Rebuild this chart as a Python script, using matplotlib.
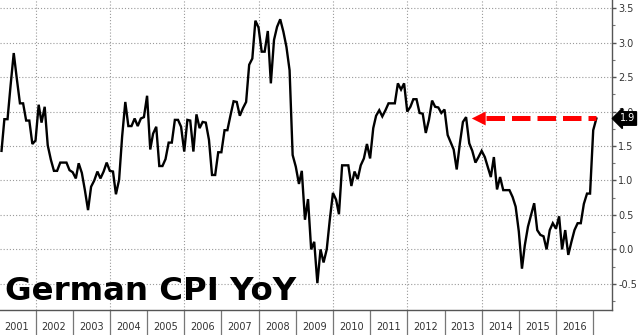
import matplotlib

matplotlib.use("Agg")
import matplotlib.dates as mdates  # noqa: E402
import matplotlib.pyplot as plt  # noqa: E402
import pandas as pd  # noqa: E402
from matplotlib.ticker import FixedLocator, MultipleLocator, NullFormatter  # noqa: E402

# German CPI, % change year on year, monthly (month-end stamps).
CPI_2001 = [1.43, 1.89, 1.89, 2.38, 2.85, 2.48, 2.12, 2.12, 1.87, 1.87, 1.53, 1.58]
CPI_2002 = [2.10, 1.84, 2.07, 1.51, 1.30, 1.14, 1.14, 1.26, 1.26, 1.26, 1.15, 1.12]
CPI_2003 = [1.03, 1.25, 1.11, 0.86, 0.57, 0.91, 1.00, 1.13, 1.03, 1.13, 1.26, 1.14]
CPI_2004 = [1.13, 0.80, 1.01, 1.64, 2.14, 1.79, 1.79, 1.90, 1.79, 1.90, 1.92, 2.23]
CPI_2005 = [1.45, 1.68, 1.78, 1.21, 1.21, 1.31, 1.55, 1.55, 1.88, 1.88, 1.78, 1.42]
CPI_2006 = [1.88, 1.87, 1.42, 1.96, 1.76, 1.85, 1.84, 1.59, 1.08, 1.08, 1.41, 1.41]
CPI_2007 = [1.73, 1.73, 1.95, 2.15, 2.14, 1.94, 2.05, 2.14, 2.68, 2.77, 3.32, 3.22]
CPI_2008 = [2.87, 2.87, 3.17, 2.41, 3.04, 3.23, 3.34, 3.16, 2.94, 2.60, 1.37, 1.20]
CPI_2009 = [0.95, 1.14, 0.43, 0.73, 0.00, 0.11, -0.49, 0.00, -0.19, 0.00, 0.43, 0.82]
CPI_2010 = [0.72, 0.51, 1.22, 1.22, 1.22, 0.92, 1.13, 1.02, 1.22, 1.32, 1.53, 1.32]
CPI_2011 = [1.76, 1.94, 2.02, 1.93, 2.02, 2.12, 2.12, 2.12, 2.41, 2.32, 2.41, 2.00]
CPI_2012 = [2.07, 2.18, 2.18, 1.98, 1.97, 1.69, 1.88, 2.16, 2.07, 2.06, 1.98, 2.03]
CPI_2013 = [1.66, 1.56, 1.45, 1.16, 1.54, 1.85, 1.92, 1.54, 1.43, 1.26, 1.34, 1.43]
CPI_2014 = [1.34, 1.20, 1.05, 1.34, 0.87, 1.05, 0.86, 0.86, 0.86, 0.76, 0.62, 0.26]
CPI_2015 = [-0.28, 0.06, 0.33, 0.50, 0.67, 0.28, 0.21, 0.19, 0.00, 0.28, 0.38, 0.30]
CPI_2016 = [0.48, 0.00, 0.28, -0.08, 0.11, 0.28, 0.38, 0.38, 0.66, 0.81, 0.81, 1.73]
CPI_2017 = [1.9]

YEAR_LABELS = list(range(2001, 2017))
Y_TICKS = [-0.5, 0.0, 0.5, 1.0, 1.5, 2.0, 2.5, 3.0, 3.5]
TITLE = "German CPI YoY"

# the red arrow points back to the last time CPI was this high
ARROW_TIP = "2013-09-25"


def main() -> int:
    cpi = (CPI_2001 + CPI_2002 + CPI_2003 + CPI_2004 + CPI_2005 + CPI_2006
           + CPI_2007 + CPI_2008 + CPI_2009 + CPI_2010 + CPI_2011 + CPI_2012
           + CPI_2013 + CPI_2014 + CPI_2015 + CPI_2016 + CPI_2017)
    dates = pd.date_range("2001-01-31", periods=len(cpi), freq="ME")
    last = cpi[-1]

    plt.rcParams["axes.unicode_minus"] = False
    fig = plt.figure(figsize=(6.4, 3.35), dpi=100)
    ax = fig.add_axes([0.0, 0.0746, 0.956, 0.9254])

    ax.plot(dates, cpi, color="black", lw=1.7, zorder=4, solid_joinstyle="miter")

    ax.set_xlim(pd.Timestamp("2001-01-16"), pd.Timestamp("2017-07-02"))
    ax.set_ylim(-0.88, 3.62)

    # grid: dotted, horizontal every 0.5, vertical every other January
    grid_kw = dict(color="#9a9a9a", lw=0.8, linestyle=(0, (1, 1.8)))
    ax.yaxis.grid(True, which="major", **grid_kw)
    for yr in range(2002, 2017, 2):
        ax.axvline(pd.Timestamp(f"{yr}-01-01"), zorder=1, **grid_kw)
    ax.set_axisbelow(True)

    for side in ("left", "top"):
        ax.spines[side].set_visible(False)
    for side in ("right", "bottom"):
        ax.spines[side].set_color("#555555")
        ax.spines[side].set_linewidth(1.0)

    # right-hand value axis
    ax.yaxis.tick_right()
    ax.yaxis.set_major_locator(FixedLocator(Y_TICKS))
    ax.yaxis.set_minor_locator(MultipleLocator(0.25))
    ax.yaxis.set_major_formatter(lambda v, _: f"{v:.1f}")
    ax.tick_params(axis="y", which="major", length=3, width=1, pad=1.5,
                   colors="#555555", labelcolor="#333333", labelsize=7)
    ax.tick_params(axis="y", which="minor", length=2, width=0.8, colors="#777777")

    # year dividers below the axis with year names centred between them
    ax.xaxis.set_major_locator(mdates.YearLocator(1))
    ax.xaxis.set_major_formatter(NullFormatter())
    ax.xaxis.set_minor_locator(
        FixedLocator(mdates.date2num([pd.Timestamp(f"{y}-07-01") for y in YEAR_LABELS])))
    ax.xaxis.set_minor_formatter(mdates.DateFormatter("%Y"))
    ax.tick_params(axis="x", which="major", length=20, width=0.9, colors="#777777")
    ax.tick_params(axis="x", which="minor", length=0, pad=8.5,
                   labelcolor="#333333", labelsize=7)

    ax.text(0.008, 0.032, TITLE, transform=ax.transAxes, fontsize=23.3,
            fontweight="bold", ha="left", va="baseline", zorder=5)

    # latest value tag sitting on the right axis (covers the tick label under it)
    tag = ax.annotate(f"{last:.1f}", xy=(1.0, last), xycoords=("axes fraction", "data"),
                      xytext=(5.5, 0), textcoords="offset points", ha="left",
                      va="center", color="white", fontsize=7, annotation_clip=False,
                      bbox=dict(boxstyle="larrow,pad=0.18", fc="black", ec="black"))
    tag.set_zorder(10)

    # red dashed arrow from the latest print back to the 2013 level
    tip = pd.Timestamp(ARROW_TIP)
    head_base = tip + pd.Timedelta(days=140)
    ax.plot([head_base, dates[-1]], [last, last], color="#ff0000", lw=3.6,
            dashes=(3.7, 1.4), solid_capstyle="butt", zorder=6)
    ax.annotate("", xy=(tip, last), xytext=(head_base, last),
                arrowprops=dict(arrowstyle="-|>,head_length=1.0,head_width=0.5",
                                color="#ff0000", lw=0, shrinkA=0, shrinkB=0),
                zorder=6)

    fig.savefig("out.png", dpi=100)
    return 0


if __name__ == "__main__":
    raise SystemExit(main())
